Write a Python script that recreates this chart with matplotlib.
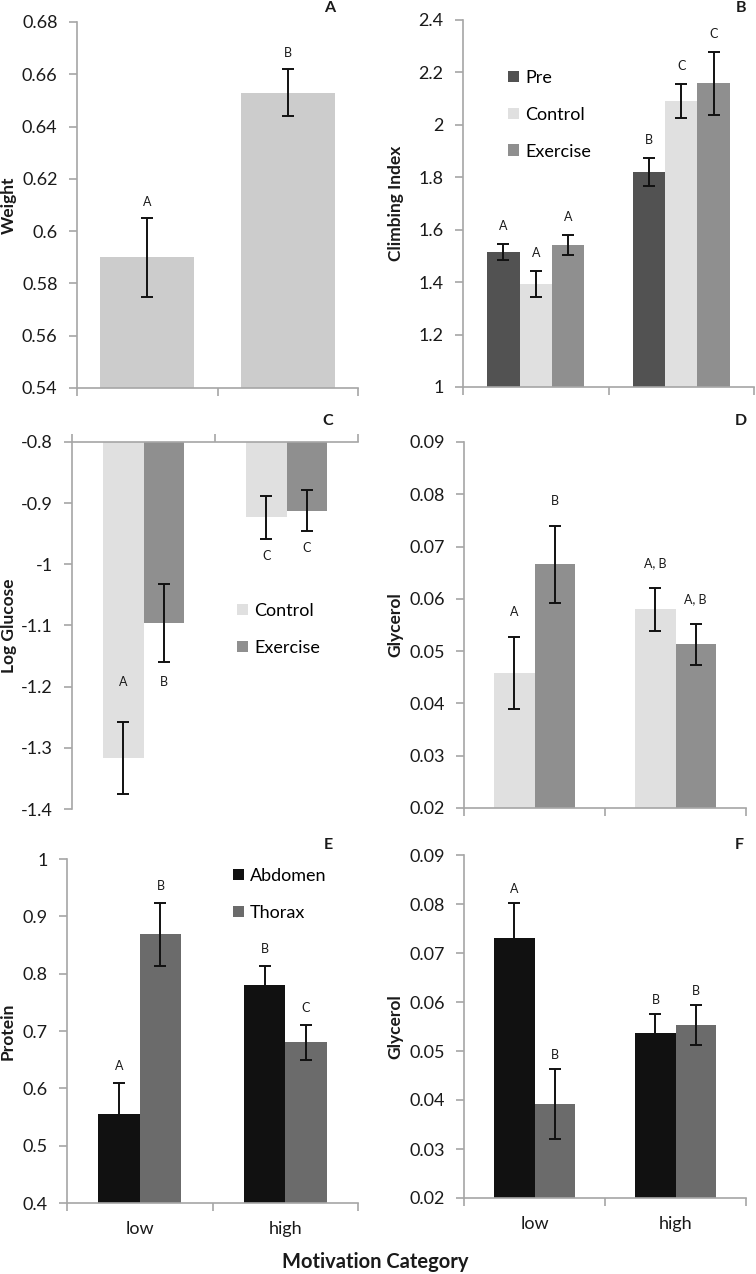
import matplotlib
matplotlib.use("Agg")
import matplotlib.pyplot as plt
from matplotlib.patches import Patch
import numpy as np

plt.rcParams['font.family'] = ['Lato', 'DejaVu Sans']

# ---- data ----
cats = ['low', 'high']

# A: weight
weight = [0.590, 0.653]
weight_err = [0.015, 0.009]
weight_letters = ['A', 'B']

# B: climbing index (Pre / Control / Exercise)
climb_names = ['Pre', 'Control', 'Exercise']
climb_pre = [1.516, 1.821]
climb_pre_err = [0.030, 0.053]
climb_control = [1.392, 2.091]
climb_control_err = [0.050, 0.065]
climb_exercise = [1.542, 2.159]
climb_exercise_err = [0.038, 0.120]
climb_letters = [['A', 'B'], ['A', 'C'], ['A', 'C']]

# C: log glucose (Control / Exercise)
trt_names = ['Control', 'Exercise']
glucose_control = [-1.316, -0.923]
glucose_control_err = [0.059, 0.035]
glucose_exercise = [-1.096, -0.912]
glucose_exercise_err = [0.064, 0.033]
glucose_letters = [['A', 'C'], ['B', 'C']]

# D: glycerol (Control / Exercise)
glyc_control = [0.0459, 0.0580]
glyc_control_err = [0.0069, 0.0041]
glyc_exercise = [0.0666, 0.0513]
glyc_exercise_err = [0.0074, 0.0039]
glyc_letters = [['A', 'A, B'], ['B', 'A, B']]

# E: protein (Abdomen / Thorax)
tissue_names = ['Abdomen', 'Thorax']
protein_abd = [0.556, 0.781]
protein_abd_err = [0.053, 0.032]
protein_tho = [0.869, 0.680]
protein_tho_err = [0.055, 0.031]
protein_letters = [['A', 'B'], ['B', 'C']]

# F: glycerol (Abdomen / Thorax)
glyc2_abd = [0.0730, 0.0536]
glyc2_abd_err = [0.0072, 0.0040]
glyc2_tho = [0.0392, 0.0553]
glyc2_tho_err = [0.0072, 0.0040]
glyc2_letters = [['A', 'B'], ['B', 'B']]

W, H = 756, 1274
SPINE = '#a6a6a6'
TXT = '#1a1a1a'

fig = plt.figure(figsize=(W / 100, H / 100), dpi=100)


def px_axes(l, t, r, b):
    return fig.add_axes([l / W, 1 - b / H, (r - l) / W, (b - t) / H])


def fmt(v):
    s = ('%.3f' % v).rstrip('0').rstrip('.')
    return s


def style(ax, ylim, yticks, top=False, xlabels=False):
    ax.set_xlim(-0.5, 1.5)
    ax.set_ylim(*ylim)
    ax.spines['right'].set_visible(False)
    if top:
        ax.spines['bottom'].set_visible(False)
        ax.xaxis.set_ticks_position('top')
    else:
        ax.spines['top'].set_visible(False)
    for s in ax.spines.values():
        s.set_color(SPINE)
        s.set_linewidth(1.2)
    ax.set_xticks([-0.5, 0.5, 1.5])
    ax.set_xticklabels([])
    ax.tick_params(axis='x', which='major', length=6, width=1.2, color=SPINE, direction='out')
    ax.set_yticks(yticks)
    ax.set_yticklabels([fmt(v) for v in yticks])
    ax.tick_params(axis='y', length=6, width=1.2, color=SPINE, direction='out',
                   labelsize=13, labelcolor=TXT, pad=8)
    if xlabels:
        ax.set_xticks([0, 1], minor=True)
        ax.set_xticklabels(cats, minor=True)
        ax.tick_params(axis='x', which='minor', length=0, labelsize=13,
                       labelcolor=TXT, pad=13)


def bars(ax, series, errs, colors, width, letters, off):
    n = len(series)
    x = np.arange(len(cats))
    for i in range(n):
        xs = x + (i - (n - 1) / 2) * width
        ax.bar(xs, series[i], width, color=colors[i], zorder=2,
               yerr=errs[i], error_kw=dict(ecolor='#111111', elinewidth=1.4,
                                           capsize=4.5, capthick=1.4, zorder=3))
        for j in range(len(cats)):
            o = off[i][j] if isinstance(off, list) else off
            base = series[i][j] + errs[i][j] if o > 0 else series[i][j] - errs[i][j]
            ax.annotate(letters[i][j], (xs[j], base), xytext=(0, o),
                        textcoords='offset pixels', ha='center', va='center',
                        fontsize=9, color=TXT)


def legend(ax, names, colors, x, y):
    handles = [Patch(facecolor=c, edgecolor='none') for c in colors]
    ax.legend(handles, names, loc='upper left', bbox_to_anchor=(x / W, 1 - y / H),
              bbox_transform=fig.transFigure, frameon=False, fontsize=13,
              handlelength=0.6, handleheight=0.6, handletextpad=0.35,
              labelspacing=1.15, borderpad=0, borderaxespad=0)


def ylabel(text, x, ax_top, ax_bot):
    fig.text(x / W, 1 - (ax_top + ax_bot) / 2 / H, text, rotation=90,
             ha='center', va='center', fontsize=12.5, fontweight='bold', color=TXT)


def panel(text, x, y):
    fig.text(x / W, 1 - y / H, text, ha='center', va='center',
             fontsize=11.5, fontweight='bold', color=TXT)


grey2 = ['#e0e0e0', '#8f8f8f']
dark2 = ['#111111', '#6b6b6b']

# A
ax = px_axes(77, 22, 358, 388)
x = np.arange(len(cats))
ax.bar(x, weight, 0.67, color='#cccccc', zorder=2, yerr=weight_err,
       error_kw=dict(ecolor='#111111', elinewidth=1.4, capsize=4.5, capthick=1.4))
for j in range(len(cats)):
    ax.annotate(weight_letters[j], (x[j], weight[j] + weight_err[j]), xytext=(0, 16),
                textcoords='offset pixels', ha='center', va='center', fontsize=9, color=TXT)
style(ax, (0.54, 0.68), np.arange(0.54, 0.6801, 0.02))
ylabel('Weight', 9, 22, 388)
panel('A', 330, 8)

# B
ax = px_axes(463, 20, 754, 387)
bars(ax, [climb_pre, climb_control, climb_exercise],
     [climb_pre_err, climb_control_err, climb_exercise_err],
     ['#525252', '#e0e0e0', '#8f8f8f'], 0.222, climb_letters, 18)
style(ax, (1.0, 2.4), np.arange(1.0, 2.401, 0.2))
legend(ax, climb_names, ['#525252', '#e0e0e0', '#8f8f8f'], 508, 70)
ylabel('Climbing Index', 396, 20, 387)
panel('B', 741, 8)

# C
ax = px_axes(72, 442, 358, 809)
bars(ax, [glucose_control, glucose_exercise],
     [glucose_control_err, glucose_exercise_err],
     grey2, 0.285, glucose_letters, [[40, -17], [-20, -17]])
style(ax, (-1.4, -0.8), np.arange(-1.4, -0.7999, 0.1), top=True)
legend(ax, trt_names, grey2, 237, 603)
ylabel('Log Glucose', 9, 442, 809)
panel('C', 328, 421)

# D
ax = px_axes(464, 442, 746, 808)
bars(ax, [glyc_control, glyc_exercise],
     [glyc_control_err, glyc_exercise_err],
     grey2, 0.285, glyc_letters, 25)
style(ax, (0.02, 0.09), np.arange(0.02, 0.0901, 0.01))
ylabel('Glycerol', 395, 442, 808)
panel('D', 741, 421)

# E
ax = px_axes(67, 859, 358, 1203)
bars(ax, [protein_abd, protein_tho],
     [protein_abd_err, protein_tho_err],
     dark2, 0.285, protein_letters, 17)
style(ax, (0.4, 1.0), np.arange(0.4, 1.001, 0.1), xlabels=True)
legend(ax, tissue_names, dark2, 233, 868)
ylabel('Protein', 8, 859, 1203)
panel('E', 328, 845)

# F
ax = px_axes(464, 855, 746, 1198)
bars(ax, [glyc2_abd, glyc2_tho],
     [glyc2_abd_err, glyc2_tho_err],
     dark2, 0.285, glyc2_letters, 14)
style(ax, (0.02, 0.09), np.arange(0.02, 0.0901, 0.01), xlabels=True)
ylabel('Glycerol', 395, 855, 1198)
panel('F', 739, 845)

fig.text(375 / W, 1 - 1262 / H, 'Motivation Category', ha='center', va='center',
         fontsize=14.5, fontweight='bold', color=TXT)

fig.savefig('out.png', dpi=100)
